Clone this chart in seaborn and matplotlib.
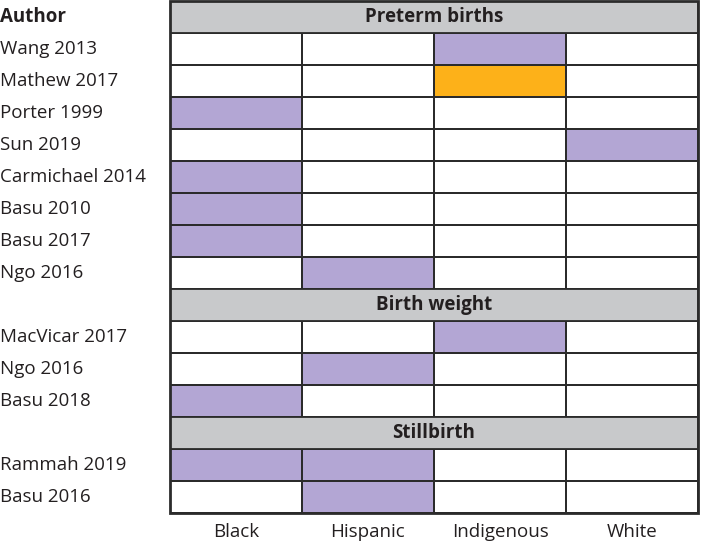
import numpy as np
import pandas as pd
import matplotlib
matplotlib.use('Agg')
import matplotlib.pyplot as plt
from matplotlib.colors import ListedColormap
from matplotlib.patches import Rectangle
import seaborn as sns

# ---- data ----
groups = ['Black', 'Hispanic', 'Indigenous', 'White']
sections = ['Preterm births', 'Birth weight', 'Stillbirth']

# 0 = none, 1 = purple, 2 = orange
preterm_authors = ['Wang 2013', 'Mathew 2017', 'Porter 1999', 'Sun 2019',
                   'Carmichael 2014', 'Basu 2010', 'Basu 2017', 'Ngo 2016']
preterm_vals = [[0, 0, 1, 0],
                [0, 0, 2, 0],
                [1, 0, 0, 0],
                [0, 0, 0, 1],
                [1, 0, 0, 0],
                [1, 0, 0, 0],
                [1, 0, 0, 0],
                [0, 1, 0, 0]]

weight_authors = ['MacVicar 2017', 'Ngo 2016', 'Basu 2018']
weight_vals = [[0, 0, 1, 0],
               [0, 1, 0, 0],
               [1, 0, 0, 0]]

still_authors = ['Rammah 2019', 'Basu 2016']
still_vals = [[1, 1, 0, 0],
              [0, 1, 0, 0]]

# ---- build matrix, header rows get value 3 ----
labels, rows, header_idx = [], [], []
for sec, authors, vals in zip(sections,
                              [preterm_authors, weight_authors, still_authors],
                              [preterm_vals, weight_vals, still_vals]):
    header_idx.append(len(rows))
    labels.append('')
    rows.append([3] * len(groups))
    labels += authors
    rows += vals

df = pd.DataFrame(rows, columns=groups)

purple = '#b3a6d4'
orange = '#fdb119'
grey = '#c8c9cb'
edge = '#2b2b2b'
txt = '#231f20'
cmap = ListedColormap(['white', purple, orange, grey])

plt.rcParams['font.family'] = ['Open Sans', 'DejaVu Sans']
fs = 13.5

fig = plt.figure(figsize=(7.01, 5.41), dpi=100)
ax = fig.add_axes([170 / 701, 28 / 541, 528 / 701, 512 / 541])
sns.heatmap(df, ax=ax, cmap=cmap, vmin=-0.5, vmax=3.5, cbar=False,
            linewidths=1.3, linecolor=edge, xticklabels=True, yticklabels=False)

# header rows: one merged cell with section title
for sec, i in zip(sections, header_idx):
    ax.add_patch(Rectangle((0, i), len(groups), 1, facecolor=grey,
                           edgecolor=edge, lw=1.3, zorder=3))
    ax.text(len(groups) / 2, i + 0.5, sec, ha='center', va='center',
            fontsize=fs, fontweight='bold', color=txt, zorder=4)

# outer frame
ax.add_patch(Rectangle((0, 0), len(groups), len(rows), fill=False,
                       edgecolor=edge, lw=2, zorder=5, clip_on=False))

# row labels on the left
for i, lab in enumerate(labels):
    ax.text(-170 / 132, i + 0.5, lab, ha='left', va='center',
            fontsize=fs, color=txt, clip_on=False)
ax.text(-170 / 132, 0.5, 'Author', ha='left', va='center',
        fontsize=fs, fontweight='bold', color=txt, clip_on=False)

ax.tick_params(axis='x', length=0, pad=7, labelsize=fs, labelcolor=txt)
ax.tick_params(axis='y', length=0)
ax.set_xlabel('')
ax.set_ylabel('')

plt.savefig('out.png', dpi=100)
